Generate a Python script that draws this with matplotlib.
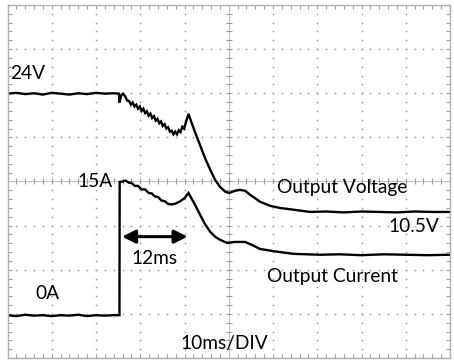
import matplotlib
matplotlib.use("Agg")
import matplotlib.pyplot as plt
import numpy as np

plt.rcParams["font.family"] = ["Lato", "DejaVu Sans"]

# time in ms (10 ms/div), amplitude in screen divisions (0 = bottom, 8 = top)
v_time = [0, 2, 4, 6, 8, 10, 12, 14, 16, 18, 20, 22, 24, 25.2,
          25.3, 25.7, 26.1, 26.6, 27.0,
          27.5, 27.9, 28.3, 28.7, 29.1, 29.5, 29.9, 30.3, 30.7, 31.1,
          31.5, 31.9, 32.3, 32.7, 33.1, 33.5, 33.9, 34.3, 34.7, 35.1,
          35.5, 35.9, 36.3, 36.7, 37.1, 37.5, 37.9, 38.3, 38.7, 39.1,
          39.5, 39.9, 40.3, 40.9,
          42.4, 43.5, 44.6, 45.8, 46.9, 48.0, 49.2, 50.1, 51.4, 52.5,
          53.7, 54.8, 57.1, 59.3, 61.6, 64.7, 68.4, 72, 76, 80, 84,
          88, 92, 96, 100]
v_level = [5.99, 6.01, 5.98, 6.00, 5.97, 6.01, 5.99, 5.97, 6.00, 5.98,
           6.01, 5.99, 6.00, 5.99,
           5.79, 5.95, 5.99, 5.93, 5.84,
           5.82, 5.74, 5.79, 5.70, 5.74, 5.65, 5.70, 5.60, 5.65, 5.55,
           5.59, 5.49, 5.54, 5.44, 5.48, 5.38, 5.42, 5.32, 5.36, 5.26,
           5.30, 5.20, 5.23, 5.13, 5.15, 5.07, 5.13, 5.07, 5.16, 5.12,
           5.24, 5.20, 5.34, 5.53,
           5.11, 4.83, 4.54, 4.27, 4.04, 3.88, 3.77, 3.74, 3.79, 3.81,
           3.79, 3.70, 3.54, 3.45, 3.40, 3.36, 3.31, 3.32, 3.30, 3.32,
           3.31, 3.30, 3.32, 3.31, 3.31]

i_time = [0, 2, 4, 6, 8, 10, 12, 14, 16, 18, 20, 22, 24, 25.3,
          25.35, 26.0, 26.7, 27.5,
          28.0, 28.8, 29.5, 30.3, 31.1, 31.9, 32.6, 33.3, 34.0, 34.8,
          35.6, 36.3, 37.1, 38.0, 39.0, 40.0, 40.9,
          42.4, 43.5, 44.6, 45.8, 46.9, 48.0, 49.6, 51.4, 53.7, 55.3,
          57.1, 60.9, 64.7, 70.6, 75, 80, 85, 90, 95, 100]
i_level = [0.97, 0.95, 0.98, 0.96, 0.97, 0.95, 0.97, 0.96, 0.98, 0.95,
           0.97, 0.96, 0.97, 0.97,
           3.99, 4.00, 4.02, 3.97,
           3.97, 3.90, 3.90, 3.82, 3.82, 3.74, 3.73, 3.66, 3.65, 3.57,
           3.55, 3.49, 3.48, 3.50, 3.55, 3.62, 3.74,
           3.47, 3.25, 3.04, 2.86, 2.75, 2.68, 2.61, 2.63, 2.63, 2.56,
           2.47, 2.41, 2.36, 2.34, 2.35, 2.33, 2.35, 2.34, 2.33, 2.34]

grid_color = "#9a9a9a"

fig = plt.figure(figsize=(4.54, 3.63), dpi=100)
ax = fig.add_axes([7.5 / 454, 5 / 363, 442.5 / 454, 353 / 363])
ax.set_xlim(0, 100)
ax.set_ylim(0, 8)

# border with inward ticks
for s in ax.spines.values():
    s.set_color("#b0b0b0")
    s.set_linewidth(1.0)
ax.set_xticks(np.arange(0, 101, 10))
ax.set_xticks(np.arange(0, 101, 2), minor=True)
ax.set_yticks(np.arange(0, 9, 1))
ax.set_yticks(np.arange(0, 8.01, 0.2), minor=True)
ax.tick_params(which="both", direction="in", length=3, width=0.8,
               color="#a0a0a0", top=True, right=True,
               labelbottom=False, labelleft=False)

# dotted graticule
for gx in range(10, 100, 10):
    if gx == 50:
        continue
    yy = np.arange(0.2, 8, 0.2)
    ax.plot([gx] * len(yy), yy, ls="none", marker="s", ms=1.1,
            mew=0, color=grid_color)
for gy in range(1, 8):
    if gy == 4:
        continue
    xx = np.arange(2, 100, 2)
    ax.plot(xx, [gy] * len(xx), ls="none", marker="s", ms=1.1,
            mew=0, color=grid_color)

# centre axes with cross ticks
ax.axvline(50, color="#c0c0c0", lw=0.8)
ax.axhline(4, color="#c0c0c0", lw=0.8)
yy = np.arange(0.2, 8, 0.2)
ax.plot([50] * len(yy), yy, ls="none", marker="_", ms=5, mew=0.8,
        color=grid_color)
xx = np.arange(2, 100, 2)
ax.plot(xx, [4] * len(xx), ls="none", marker="|", ms=5, mew=0.8,
        color=grid_color)

# traces
ax.plot(v_time, v_level, color="black", lw=1.7, solid_joinstyle="miter")
ax.plot(i_time, i_level, color="black", lw=1.7, solid_joinstyle="miter")

# 12 ms arrow
ax.annotate("", xy=(25.9, 2.75), xytext=(40.7, 2.75),
            arrowprops=dict(arrowstyle="<|-|>", color="black", lw=2.2,
                            mutation_scale=20, shrinkA=0, shrinkB=0))

fs = 13.8
ax.text(0.56, 6.33, "24V", fontsize=fs, va="baseline", ha="left")
ax.text(15.9, 3.88, "15A", fontsize=fs, va="baseline", ha="left")
ax.text(6.2, 1.34, "0A", fontsize=fs, va="baseline", ha="left")
ax.text(27.9, 2.13, "12ms", fontsize=fs, va="baseline", ha="left")
ax.text(39.0, 0.20, "10ms/DIV", fontsize=fs, va="baseline", ha="left")
ax.text(60.9, 3.74, "Output Voltage", fontsize=fs, va="baseline", ha="left")
ax.text(86.2, 2.86, "10.5V", fontsize=fs, va="baseline", ha="left")
ax.text(58.6, 1.72, "Output Current", fontsize=fs, va="baseline", ha="left")

plt.savefig("out.png", dpi=100)
plt.close()
